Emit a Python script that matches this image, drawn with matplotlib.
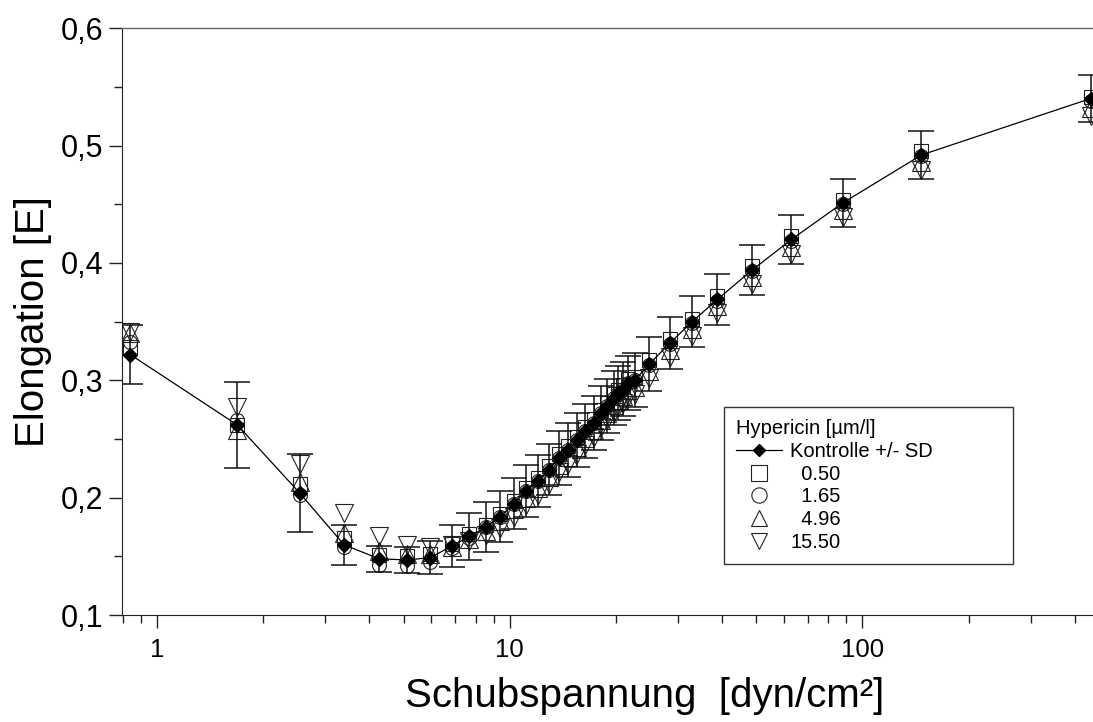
import numpy as np
import matplotlib
matplotlib.use("Agg")
import matplotlib.pyplot as plt
from matplotlib.lines import Line2D
from matplotlib.ticker import FuncFormatter, FixedLocator, NullFormatter

plt.rcParams['font.family'] = ['Liberation Sans', 'DejaVu Sans']

# shear stress [dyn/cm2]
shear = [0.84, 1.69, 2.54, 3.39, 4.26, 5.12, 5.95, 6.87, 7.68, 8.58,
         9.40, 10.3, 11.1, 12.0, 12.9, 13.8, 14.6, 15.5, 16.4, 17.3,
         18.1, 18.9, 19.7, 20.3, 21.0, 21.7, 22.6, 24.9, 28.5, 32.9,
         38.8, 48.7, 62.9, 87.8, 147.0, 443.0]

# Kontrolle mean and SD
kontrolle = [0.322, 0.262, 0.204, 0.160, 0.148, 0.147, 0.149, 0.159, 0.167, 0.175,
             0.184, 0.195, 0.206, 0.214, 0.224, 0.234, 0.241, 0.249, 0.257, 0.264,
             0.272, 0.278, 0.285, 0.289, 0.293, 0.298, 0.300, 0.314, 0.332, 0.350,
             0.369, 0.394, 0.420, 0.451, 0.492, 0.540]
kontrolle_sd = [0.025, 0.037, 0.033, 0.017, 0.011, 0.011, 0.014, 0.018, 0.020, 0.021,
                0.022, 0.022, 0.022, 0.022, 0.022, 0.023, 0.023, 0.023, 0.023, 0.023,
                0.023, 0.023, 0.023, 0.023, 0.023, 0.023, 0.023, 0.023, 0.022, 0.022,
                0.022, 0.021, 0.021, 0.0205, 0.0205, 0.020]

# hypericin concentrations
hyp_050 = [0.328, 0.262, 0.212, 0.166, 0.151, 0.150, 0.152, 0.161, 0.169, 0.177,
           0.186, 0.197, 0.208, 0.217, 0.227, 0.237, 0.244, 0.252, 0.260, 0.267,
           0.275, 0.281, 0.288, 0.292, 0.296, 0.301, 0.303, 0.317, 0.335, 0.352,
           0.372, 0.397, 0.423, 0.454, 0.495, 0.541]
hyp_165 = [0.333, 0.266, 0.202, 0.158, 0.143, 0.142, 0.145, 0.157, 0.166, 0.175,
           0.184, 0.195, 0.206, 0.214, 0.224, 0.234, 0.241, 0.249, 0.257, 0.264,
           0.272, 0.278, 0.285, 0.289, 0.293, 0.298, 0.300, 0.313, 0.331, 0.349,
           0.368, 0.393, 0.419, 0.450, 0.491, 0.538]
hyp_496 = [0.340, 0.258, 0.213, 0.170, 0.155, 0.152, 0.152, 0.158, 0.165, 0.172,
           0.180, 0.190, 0.200, 0.208, 0.218, 0.228, 0.235, 0.243, 0.251, 0.258,
           0.266, 0.272, 0.279, 0.283, 0.287, 0.292, 0.294, 0.308, 0.326, 0.344,
           0.363, 0.388, 0.414, 0.445, 0.486, 0.532]
hyp_1550 = [0.341, 0.277, 0.229, 0.187, 0.167, 0.160, 0.158, 0.160, 0.163, 0.168,
            0.174, 0.184, 0.194, 0.202, 0.212, 0.222, 0.229, 0.237, 0.245, 0.252,
            0.260, 0.266, 0.273, 0.277, 0.281, 0.286, 0.288, 0.302, 0.320, 0.338,
            0.357, 0.382, 0.408, 0.439, 0.479, 0.525]

labels = ['  0.50', '  1.65', '  4.96', '15.50']
markers = ['s', 'o', '^', 'v']
sizes = [10, 10, 13, 13]

fig = plt.figure(figsize=(10.93, 7.22), dpi=100)
ax = fig.add_axes([0.1116, 0.148, 0.888, 0.813])

for ys, m, s in zip([hyp_050, hyp_165, hyp_496, hyp_1550], markers, sizes):
    ax.plot(shear, ys, linestyle='none', marker=m, markersize=s,
            markerfacecolor='none', markeredgecolor='#222222', markeredgewidth=0.8,
            zorder=2)

ax.errorbar(shear, kontrolle, yerr=kontrolle_sd, fmt='none', ecolor='#111111',
            elinewidth=1.1, capsize=9.7, capthick=1.1, zorder=3)
ax.plot(shear, kontrolle, color='black', linewidth=0.9, marker='D', markersize=7,
        markerfacecolor='black', markeredgecolor='black', zorder=4)

ax.set_xscale('log')
ax.set_xlim(0.796, 449)
ax.set_ylim(0.1, 0.6)

ax.xaxis.set_major_locator(FixedLocator([1, 10, 100]))
ax.xaxis.set_major_formatter(FuncFormatter(lambda v, p: '%g' % v))
minor_x = [0.8, 0.9] + [k * 10 ** e for e in (0, 1, 2) for k in range(2, 10)]
ax.xaxis.set_minor_locator(FixedLocator([v for v in minor_x if v < 449]))
ax.xaxis.set_minor_formatter(NullFormatter())

ax.yaxis.set_major_locator(FixedLocator([0.1, 0.2, 0.3, 0.4, 0.5, 0.6]))
ax.yaxis.set_minor_locator(FixedLocator([0.15, 0.25, 0.35, 0.45, 0.55]))
ax.yaxis.set_major_formatter(FuncFormatter(lambda v, p: ('%.1f' % v).replace('.', ',')))

ax.tick_params(axis='both', which='major', direction='out', length=9.5, width=1.0,
               color='#222222')
ax.tick_params(axis='both', which='minor', direction='out', length=5.5, width=1.0,
               color='#222222')
ax.tick_params(axis='y', which='major', labelsize=22, pad=4)
ax.tick_params(axis='x', which='major', labelsize=18.5, pad=7)
ax.tick_params(axis='x', which='both', top=False)
ax.tick_params(axis='y', which='both', right=False)

ax.spines['right'].set_visible(False)
ax.spines['top'].set_color('#666666')
ax.spines['top'].set_linewidth(1.0)
ax.spines['left'].set_color('#222222')
ax.spines['bottom'].set_color('#222222')

ax.set_xlabel('Schubspannung  [dyn/cm²]', fontsize=29)
ax.xaxis.set_label_coords(0.538, -0.105)
ax.set_ylabel('Elongation [E]', fontsize=29, labelpad=6)

handles = [Line2D([], [], color='black', linewidth=0.9, marker='D', markersize=6,
                  markerfacecolor='black')]
labs = ['Kontrolle +/- SD']
for m, lab in zip(markers, labels):
    handles.append(Line2D([], [], linestyle='none', marker=m, markersize=11,
                          markerfacecolor='none', markeredgecolor='#222222',
                          markeredgewidth=0.8))
    labs.append(lab)

leg = ax.legend(handles, labs, title='Hypericin [µm/l]', loc='upper left',
                bbox_to_anchor=(0.62, 0.10, 0.298, 0.254), mode='expand',
                borderaxespad=0, fontsize=14.5, title_fontsize=14.5,
                frameon=True, fancybox=False, framealpha=1, edgecolor='#333333',
                handlelength=2.3, handletextpad=0.4, labelspacing=0.18,
                borderpad=0.6, alignment='left')
leg.get_frame().set_linewidth(1.0)

fig.savefig('out.png', dpi=100)
